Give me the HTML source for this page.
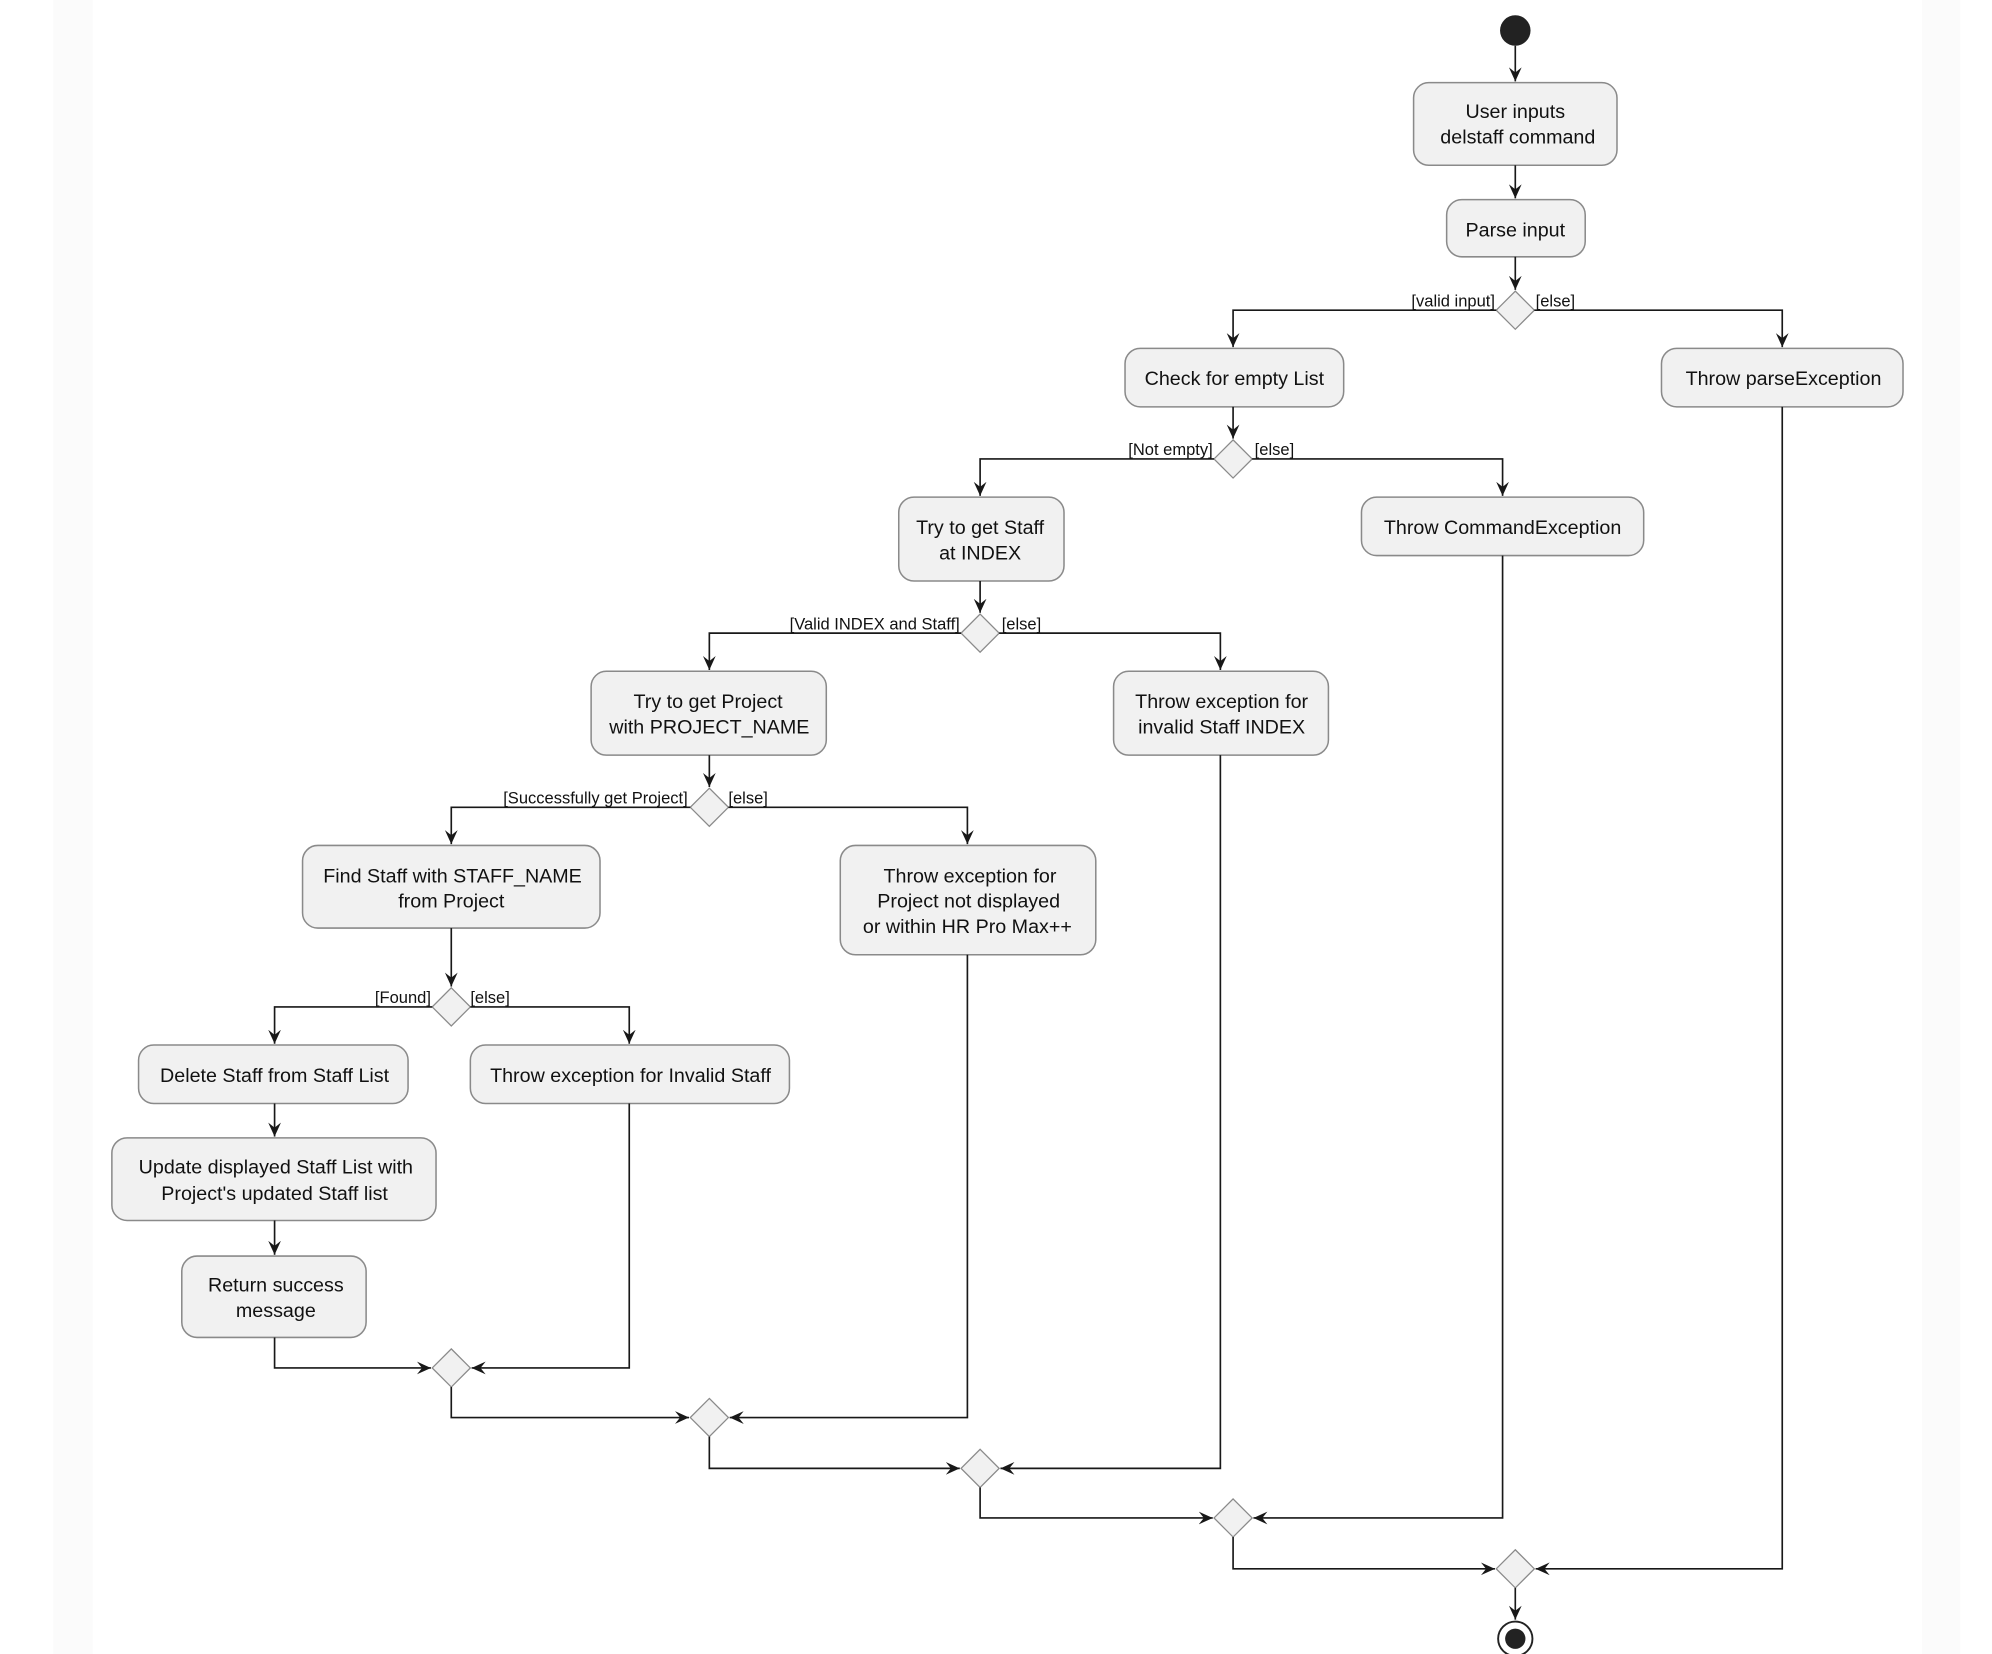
<!DOCTYPE html>
<html><head><meta charset="utf-8"><style>
html,body{margin:0;padding:0;background:#fff;}
svg{display:block;}
text{font-family:"Liberation Sans",sans-serif;fill:#111;}
.n{font-size:15.5px;text-anchor:middle;}
.l{font-size:13px;}
.b{fill:#f1f1f1;stroke:#8a8a8a;stroke-width:1.2;}
.d{fill:#f1f1f1;stroke:#8a8a8a;stroke-width:1;}
.e{fill:none;stroke:#181818;stroke-width:1.3;}
</style></head><body>
<svg width="1992" height="1654" viewBox="0 0 1567 1301" preserveAspectRatio="none" xmlns="http://www.w3.org/2000/svg">
<defs>
<marker id="a" viewBox="0 0 12 12" refX="11" refY="6" markerWidth="12" markerHeight="12" markerUnits="userSpaceOnUse" orient="auto">
<path d="M0,1 L11,6 L0,11 L4,6 Z" fill="#181818"/>
</marker>
</defs>
<rect x="0" y="0" width="1567" height="1301" fill="#fff"/>
<rect x="42" y="0" width="31" height="1301" fill="#fbfbfb"/>
<rect x="1512" y="0" width="30" height="1301" fill="#fbfbfb"/>

<!-- start -->
<circle cx="1192" cy="24" r="12" fill="#222"/>
<path class="e" d="M1192,36 V64" marker-end="url(#a)"/>
<rect class="b" x="1112" y="65" width="160" height="65" rx="12"/>
<text class="n" x="1192" y="93">User inputs</text>
<text class="n" x="1194" y="113">delstaff command</text>
<path class="e" d="M1192,130 V156" marker-end="url(#a)"/>
<rect class="b" x="1138" y="157" width="109" height="45" rx="12"/>
<text class="n" x="1192" y="186">Parse input</text>
<path class="e" d="M1192,202 V228" marker-end="url(#a)"/>
<polygon class="d" points="1192,229 1207,244 1192,259 1177,244"/>
<text class="l" x="1176" y="241" text-anchor="end">[valid input]</text>
<text class="l" x="1208" y="241">[else]</text>
<path class="e" d="M1177,244 H970 V273" marker-end="url(#a)"/>
<path class="e" d="M1207,244 H1402 V273" marker-end="url(#a)"/>

<rect class="b" x="885" y="274" width="172" height="46" rx="12"/>
<text class="n" x="971" y="303">Check for empty List</text>
<rect class="b" x="1307" y="274" width="190" height="46" rx="12"/>
<text class="n" x="1403" y="303">Throw parseException</text>
<path class="e" d="M1402,320 V1234 H1208" marker-end="url(#a)"/>

<path class="e" d="M970,320 V345" marker-end="url(#a)"/>
<polygon class="d" points="970,346 985,361 970,376 955,361"/>
<text class="l" x="954" y="358" text-anchor="end">[Not empty]</text>
<text class="l" x="987" y="358">[else]</text>
<path class="e" d="M955,361 H771 V390" marker-end="url(#a)"/>
<path class="e" d="M985,361 H1182 V390" marker-end="url(#a)"/>

<rect class="b" x="707" y="391" width="130" height="66" rx="12"/>
<text class="n" x="771" y="420">Try to get Staff</text>
<text class="n" x="771" y="440">at INDEX</text>
<rect class="b" x="1071" y="391" width="222" height="46" rx="12"/>
<text class="n" x="1182" y="420">Throw CommandException</text>
<path class="e" d="M1182,437 V1194 H986" marker-end="url(#a)"/>

<path class="e" d="M771,457 V482" marker-end="url(#a)"/>
<polygon class="d" points="771,483 786,498 771,513 756,498"/>
<text class="l" x="755" y="495" text-anchor="end">[Valid INDEX and Staff]</text>
<text class="l" x="788" y="495">[else]</text>
<path class="e" d="M756,498 H558 V527" marker-end="url(#a)"/>
<path class="e" d="M786,498 H960 V527" marker-end="url(#a)"/>

<rect class="b" x="465" y="528" width="185" height="66" rx="12"/>
<text class="n" x="557" y="557">Try to get Project</text>
<text class="n" x="558" y="577">with PROJECT_NAME</text>
<rect class="b" x="876" y="528" width="169" height="66" rx="12"/>
<text class="n" x="961" y="557">Throw exception for</text>
<text class="n" x="961" y="577">invalid Staff INDEX</text>
<path class="e" d="M960,594 V1155 H787" marker-end="url(#a)"/>

<path class="e" d="M558,594 V619" marker-end="url(#a)"/>
<polygon class="d" points="558,620 573,635 558,650 543,635"/>
<text class="l" x="541" y="632" text-anchor="end">[Successfully get Project]</text>
<text class="l" x="573" y="632">[else]</text>
<path class="e" d="M543,635 H355 V664" marker-end="url(#a)"/>
<path class="e" d="M573,635 H761 V664" marker-end="url(#a)"/>

<rect class="b" x="238" y="665" width="234" height="65" rx="12"/>
<text class="n" x="356" y="694">Find Staff with STAFF_NAME</text>
<text class="n" x="355" y="714">from Project</text>
<rect class="b" x="661" y="665" width="201" height="86" rx="12"/>
<text class="n" x="763" y="694">Throw exception for</text>
<text class="n" x="762" y="714">Project not displayed</text>
<text class="n" x="761" y="734">or within HR Pro Max++</text>
<path class="e" d="M761,751 V1115 H574" marker-end="url(#a)"/>

<path class="e" d="M355,730 V776" marker-end="url(#a)"/>
<polygon class="d" points="355,777 370,792 355,807 340,792"/>
<text class="l" x="339" y="789" text-anchor="end">[Found]</text>
<text class="l" x="370" y="789">[else]</text>
<path class="e" d="M340,792 H216 V821" marker-end="url(#a)"/>
<path class="e" d="M370,792 H495 V821" marker-end="url(#a)"/>

<rect class="b" x="109" y="822" width="212" height="46" rx="12"/>
<text class="n" x="216" y="851">Delete Staff from Staff List</text>
<rect class="b" x="370" y="822" width="251" height="46" rx="12"/>
<text class="n" x="496" y="851">Throw exception for Invalid Staff</text>
<path class="e" d="M495,868 V1076 H371" marker-end="url(#a)"/>

<path class="e" d="M216,868 V894" marker-end="url(#a)"/>
<rect class="b" x="88" y="895" width="255" height="65" rx="12"/>
<text class="n" x="217" y="923">Update displayed Staff List with</text>
<text class="n" x="216" y="944">Project's updated Staff list</text>
<path class="e" d="M216,960 V987" marker-end="url(#a)"/>
<rect class="b" x="143" y="988" width="145" height="64" rx="12"/>
<text class="n" x="217" y="1016">Return success</text>
<text class="n" x="217" y="1036">message</text>
<path class="e" d="M216,1052 V1076 H339" marker-end="url(#a)"/>

<!-- merges -->
<polygon class="d" points="355,1061 370,1076 355,1091 340,1076"/>
<path class="e" d="M355,1091 V1115 H542" marker-end="url(#a)"/>
<polygon class="d" points="558,1100 573,1115 558,1130 543,1115"/>
<path class="e" d="M558,1130 V1155 H755" marker-end="url(#a)"/>
<polygon class="d" points="771,1140 786,1155 771,1170 756,1155"/>
<path class="e" d="M771,1170 V1194 H954" marker-end="url(#a)"/>
<polygon class="d" points="970,1179 985,1194 970,1209 955,1194"/>
<path class="e" d="M970,1209 V1234 H1176" marker-end="url(#a)"/>
<polygon class="d" points="1192,1219 1207,1234 1192,1249 1177,1234"/>
<path class="e" d="M1192,1249 V1274" marker-end="url(#a)"/>
<circle cx="1192" cy="1289" r="13.5" fill="#fff" stroke="#222" stroke-width="1.5"/>
<circle cx="1192" cy="1289" r="8" fill="#222"/>
</svg>
</body></html>
